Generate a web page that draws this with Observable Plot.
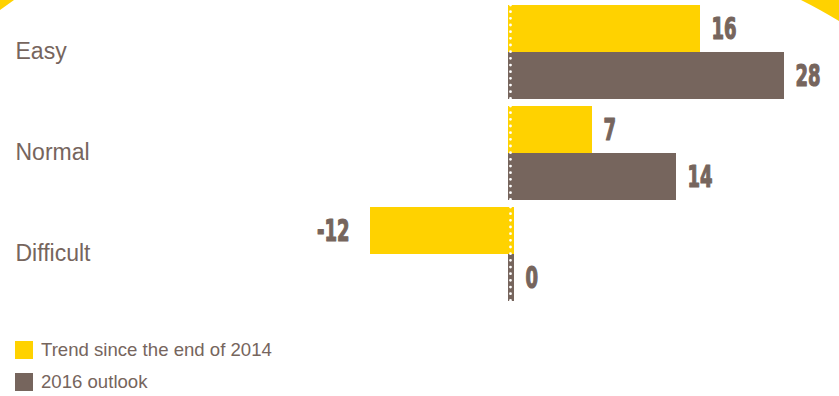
<!DOCTYPE html>
<html><head><meta charset="utf-8">
<script src="https://cdn.jsdelivr.net/npm/d3@7"></script>
<script src="https://cdn.jsdelivr.net/npm/@observablehq/plot@0.6"></script>
<style>
html,body{margin:0;padding:0;background:#fff;}
#wrap{position:relative;width:839px;height:396px;overflow:hidden;background:#fff;}
#wrap svg.plot{position:absolute;left:0;top:0;}
.legend{position:absolute;left:15px;top:341px;font-family:"Liberation Sans",Arial,sans-serif;font-size:18.6px;color:#76655d;}
.legend .row{display:flex;align-items:center;height:18px;margin-bottom:14px;white-space:nowrap;}
.legend .sw{width:18px;height:18px;margin-right:8px;flex:none;}
.deco{position:absolute;left:0;top:0;}
</style></head><body><div id="wrap"></div>
<script>
const categories = ["Easy", "Normal", "Difficult"];
const seriesNames = ["Trend since the end of 2014", "2016 outlook"];
const trendValues = [16, 7, -12];
const outlookValues = [28, 14, 0];
const YELLOW = "#FFD200";
const BROWN = "#76655D";

const rows = [];
categories.forEach((c, i) => {
  rows.push({cat: c, series: seriesNames[0], value: trendValues[i]});
  rows.push({cat: c, series: seriesNames[1], value: outlookValues[i]});
});
const pos = rows.filter(d => d.value > 0);
const neg = rows.filter(d => d.value < 0);
const zero = rows.filter(d => d.value === 0);
const common = {y: "series", fy: "cat", fill: "series"};
const valStyle = {y: "series", fy: "cat", text: d => String(d.value), fill: BROWN,
  stroke: BROWN, strokeWidth: 0.8,
  fontFamily: "DejaVu Sans Condensed", fontWeight: "bold", fontSize: 20};

const chart = Plot.plot({
  width: 839, height: 310,
  marginTop: 4, marginBottom: 9, marginLeft: 0, marginRight: 0,
  style: {background: "transparent", fontFamily: "Liberation Sans, Arial, sans-serif", overflow: "visible"},
  x: {domain: [-508 / 12, 23], range: [0, 784], clamp: true, axis: null},
  y: {domain: seriesNames, padding: 0, axis: null},
  fy: {domain: categories, paddingInner: 0.07, paddingOuter: 0, axis: null},
  color: {domain: seriesNames, range: [YELLOW, BROWN]},
  marks: [
    Plot.barX(pos, {x1: d => 0, x2: "value", ...common}),
    Plot.barX(neg, {x1: "value", x2: d => 0, ...common, insetLeft: 6, insetRight: -6}),
    Plot.barX(zero, {x1: "value", x2: "value", ...common, insetRight: -6}),
    Plot.ruleX([0], {stroke: "white", strokeWidth: 2.8, strokeDasharray: "0 6.67", strokeLinecap: "round", dx: 2}),
    Plot.text(categories, {fy: d => d, text: d => d, frameAnchor: "left", dx: 15, dy: -1, textAnchor: "start", fill: BROWN, fontSize: 23}),
    Plot.text(pos, {x: "value", textAnchor: "start", dx: 11, ...valStyle}),
    Plot.text(neg, {x: "value", textAnchor: "end", dx: -15, ...valStyle}),
    Plot.text(zero, {x: "value", textAnchor: "start", dx: 17, ...valStyle})
  ]
});
chart.classList.add("plot");
const wrap = document.getElementById("wrap");
wrap.appendChild(chart);

// condensed display digits: stretch vertically
d3.select(chart).selectAll("text").each(function() {
  const ff = getComputedStyle(this).fontFamily || "";
  if (!ff.includes("Condensed")) return;
  const b = this.getBBox();
  const cx = b.x + b.width / 2, cy = b.y + b.height / 2;
  const t = this.getAttribute("transform") || "";
  this.setAttribute("transform", `${t} translate(${cx},${cy}) scale(1,1.5) translate(${-cx},${-cy})`);
});

// decorative corners
const deco = d3.select(wrap).append("svg").attr("class", "deco").attr("width", 839).attr("height", 40);
deco.append("polygon").attr("points", "0,0 14,0 0,10").attr("fill", YELLOW);
deco.append("path").attr("d", "M801,0 L839,0 L839,21 Q819,9 801,0 Z").attr("fill", YELLOW);

// legend
const legend = d3.select(wrap).append("div").attr("class", "legend");
seriesNames.forEach((s, i) => {
  const r = legend.append("div").attr("class", "row");
  r.append("div").attr("class", "sw").style("background", [YELLOW, BROWN][i]);
  r.append("span").text(s);
});
</script>
</body></html>
